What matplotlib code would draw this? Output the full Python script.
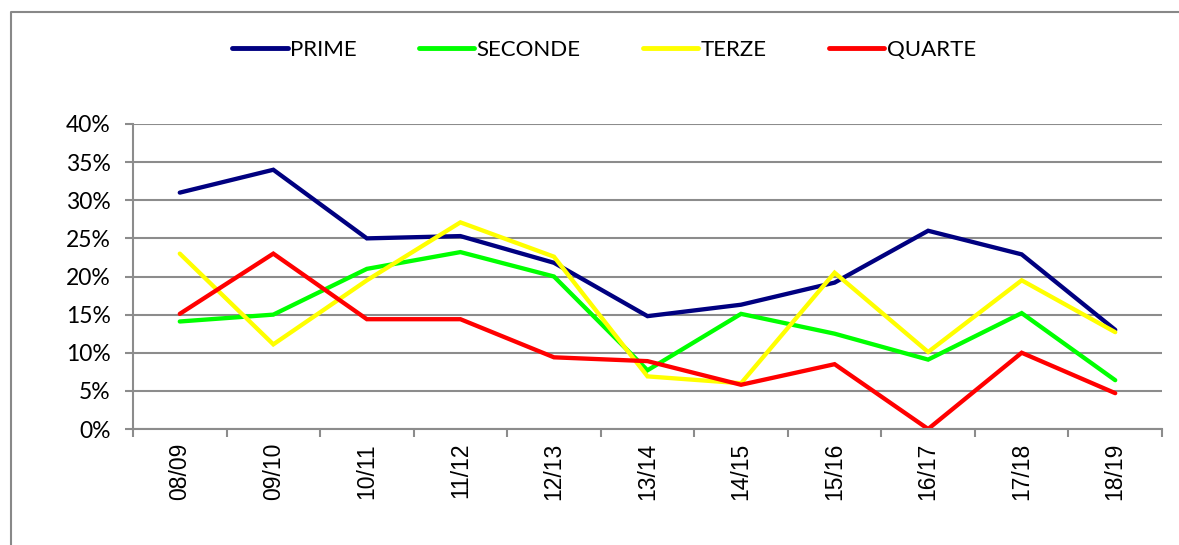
import matplotlib.pyplot as plt
from matplotlib.lines import Line2D
from matplotlib.ticker import FuncFormatter, FixedLocator

# Data (percent)
seasons = ["08/09", "09/10", "10/11", "11/12", "12/13", "13/14",
           "14/15", "15/16", "16/17", "17/18", "18/19"]
prime = [31.0, 34.0, 25.0, 25.3, 21.8, 14.8, 16.3, 19.2, 26.0, 22.9, 13.0]
seconde = [14.1, 15.0, 21.0, 23.2, 20.0, 7.7, 15.1, 12.5, 9.1, 15.2, 6.4]
terze = [23.0, 11.1, 19.5, 27.1, 22.6, 6.9, 6.0, 20.5, 10.1, 19.5, 12.7]
quarte = [15.1, 23.0, 14.4, 14.4, 9.4, 8.9, 5.8, 8.5, 0.0, 10.0, 4.7]

series = [("PRIME", prime, "#000080"),
          ("SECONDE", seconde, "#00FF00"),
          ("TERZE", terze, "#FFFF00"),
          ("QUARTE", quarte, "#FF0000")]

GRID = "#8c8c8c"
FONT = "Lato"

fig = plt.figure(figsize=(11.79, 5.45), dpi=100)
ax = fig.add_axes([133 / 1179, 1 - 429 / 545, (1162 - 133) / 1179, (429 - 124) / 545])

x = list(range(len(seasons)))
for name, vals, color in series:
    ax.plot(x, vals, color=color, lw=3.1, label=name, solid_capstyle="round",
            solid_joinstyle="miter")

ax.set_xlim(-0.5, len(seasons) - 0.5)
ax.set_ylim(0, 40)
ax.set_yticks(range(0, 41, 5))
ax.yaxis.set_major_formatter(FuncFormatter(lambda v, p: f"{int(v)}%"))
ax.grid(axis="y", color=GRID, lw=1.5)
ax.set_axisbelow(True)

ax.set_xticks(x)
ax.set_xticklabels(seasons, rotation=90, fontsize=16.5, family="Liberation Sans")
ax.xaxis.set_minor_locator(FixedLocator([i - 0.5 for i in range(len(seasons) + 1)]))
ax.tick_params(axis="x", which="major", length=0, pad=10)
ax.tick_params(axis="x", which="minor", length=6, color=GRID, width=1.5)
ax.tick_params(axis="y", length=6, color=GRID, width=1.5, pad=10)
for lbl in ax.get_yticklabels():
    lbl.set_fontsize(16.5)
    lbl.set_family(FONT)

for s in ["top", "right"]:
    ax.spines[s].set_visible(False)
for s in ["left", "bottom"]:
    ax.spines[s].set_color(GRID)
    ax.spines[s].set_linewidth(1.5)

leg = fig.legend(loc="center", bbox_to_anchor=(604 / 1179, 1 - 50 / 545), ncol=4,
                 frameon=False, prop={"family": FONT, "size": 16},
                 handlelength=2.5, handletextpad=0.1, columnspacing=2.8)
for h in leg.get_lines():
    h.set_linewidth(3.5)

# outer chart border (top and left edges only are visible)
bx, by = 11 / 1179, 1 - 12 / 545
fig.lines.append(Line2D([bx, bx, 1.0], [0.0, by, by], transform=fig.transFigure,
                        color="#888888", lw=1.5))

fig.savefig("out.png", dpi=100)
